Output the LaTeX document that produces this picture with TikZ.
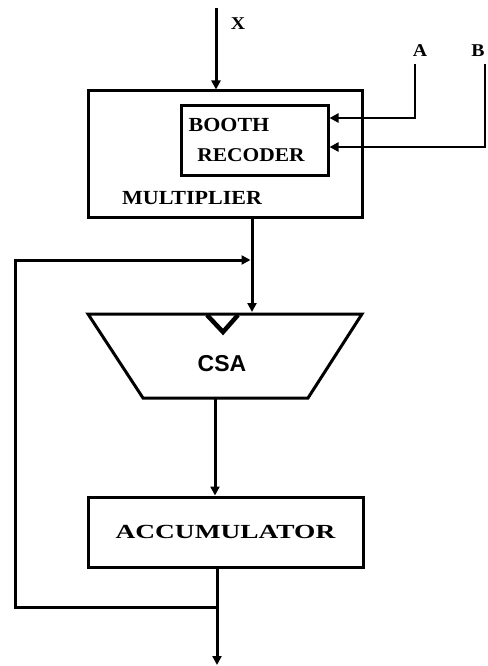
\documentclass[tikz,border=0pt]{standalone}
\usepackage{fontspec}
\setmainfont{Liberation Serif}
\newfontfamily\lblfont[FakeStretch=1.1]{Liberation Serif}
\newfontfamily\accfont[FakeStretch=1.37]{Liberation Serif}
\newfontfamily\csafont{Liberation Sans}
\usetikzlibrary{arrows.meta}

\begin{document}
\begin{tikzpicture}[x=1pt,y=-1pt,
  wire/.style={line width=3pt},
  sig/.style={wire,-{Triangle[length=9pt,width=9pt]}},
  thinsig/.style={line width=2.4pt,-{Triangle[length=9pt,width=9pt]}},
  box/.style={draw,line width=3pt,inner sep=0pt},
  lbl/.style={font=\lblfont\fontsize{20}{20}\selectfont\bfseries,inner sep=0pt},
  pin/.style={font=\lblfont\fontsize{18}{18}\selectfont\bfseries,inner sep=0pt}
]
\useasboundingbox (0,0) rectangle (487,666);

% multiplier block with the Booth recoder inside
\node[box,minimum width=274pt,minimum height=126pt] (mult) at (225,154) {};
\node[box,minimum width=147pt,minimum height=69pt] (booth) at (254.5,140.5) {};
\node[lbl] (boothA) at (229,125) {BOOTH};
\node[lbl,font=\lblfont\fontsize{19.5}{20}\selectfont\bfseries] (boothB) at (251,155) {RECODER};
\node[lbl] (multlbl) at (192,198) {MULTIPLIER};

% accumulator
\node[box,minimum width=275pt,minimum height=70pt,
      font=\accfont\fontsize{20}{20}\selectfont\bfseries] (acc) at (225.5,532)
      {ACCUMULATOR};

% carry-save adder (trapezoid)
\coordinate (csaTL) at (88,314);
\coordinate (csaTR) at (362,314);
\coordinate (csaBR) at (308,398);
\coordinate (csaBL) at (143,398);
\draw[wire,line join=miter] (csaTL) -- (csaTR) -- (csaBR) -- (csaBL) -- cycle;
\draw[line width=4.5pt] (207,315) -- (223,332) -- (238,315);
\node[font=\csafont\fontsize{23}{23}\selectfont\bfseries,inner sep=0pt] (csa) at (222,364) {CSA};

% inputs
\coordinate (xTop) at (216,8);
\node[pin] (xlbl) at (238,24) {X};
\draw[sig] (xTop) -- (xTop |- mult.north);

\coordinate (aTop) at (415,64);
\coordinate (bTop) at (485,64);
\node[pin] (albl) at (420,51) {A};
\node[pin] (blbl) at (478,51) {B};
\draw[thinsig] (aTop) |- ([yshift=22.5pt]booth.east);
\draw[thinsig] (bTop) |- ([yshift=-6.5pt]booth.east);

% data path
\coordinate (csaIn) at (252,312);
\coordinate (csaOut) at (215,399);
\draw[sig] (csaIn |- mult.south) -- (csaIn);
\draw[sig] (csaOut) -- (csaOut |- acc.north);

\coordinate (outEnd) at (217,665);
\draw[sig] (outEnd |- acc.south) -- (outEnd);

% feedback from the accumulator output
\coordinate (fbJ) at (217,607);
\coordinate (fbL) at (15,607);
\coordinate (fbIn) at (250.5,260);
\draw[sig] (fbJ) -- (fbL) |- (fbIn);
\end{tikzpicture}
\end{document}
